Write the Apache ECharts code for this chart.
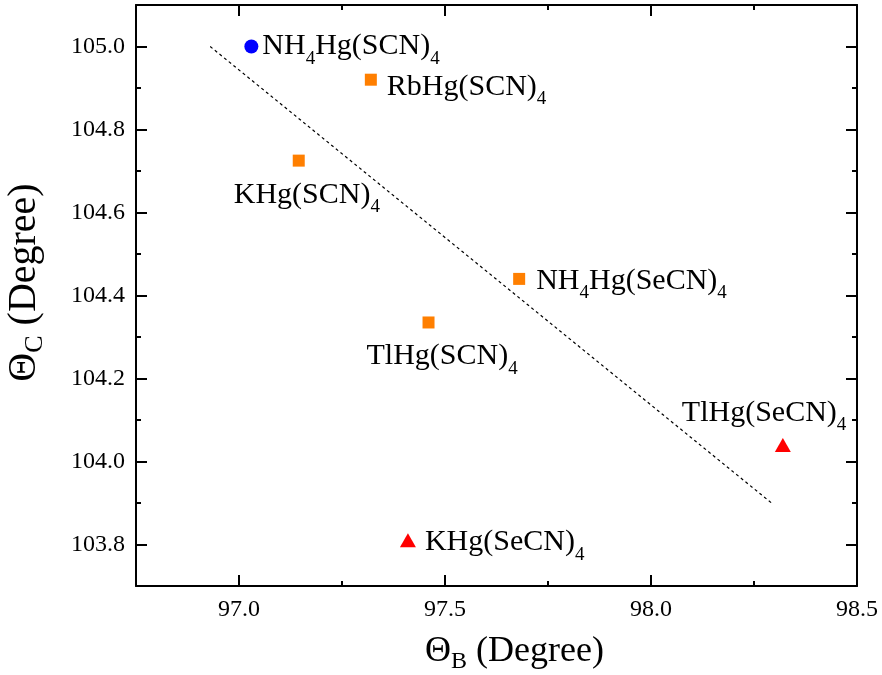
<!DOCTYPE html>
<html>
<head>
<meta charset="utf-8">
<title>Θ_C vs Θ_B</title>
<script src="https://cdn.jsdelivr.net/npm/echarts@6/dist/echarts.min.js"></script>
<style>
  html, body { margin: 0; padding: 0; background: #fff; }
  #chart { width: 882px; height: 675px; }
</style>
</head>
<body>
<div id="chart"></div>
<script>
// Compounds and their bond angles (degrees)
const compounds = ['NH4Hg(SCN)4', 'RbHg(SCN)4', 'KHg(SCN)4', 'NH4Hg(SeCN)4', 'TlHg(SCN)4', 'TlHg(SeCN)4', 'KHg(SeCN)4'];
const thetaB = [97.03, 97.32, 97.145, 97.68, 97.46, 98.32, 97.41];
const thetaC = [105.00, 104.92, 104.725, 104.44, 104.335, 104.04, 103.81];
// marker group per compound: 0 = circle, 1 = square, 2 = triangle
const groups = [0, 1, 1, 1, 1, 2, 2];

// Linear trend line endpoints
const trendB = [96.93, 98.295];
const trendC = [105.00, 103.898];

// Axis ticks
const xMajorTicks = [97.0, 97.5, 98.0, 98.5];
const xMinorTicks = [97.25, 97.75, 98.25];
const yMajorTicks = [103.8, 104.0, 104.2, 104.4, 104.6, 104.8, 105.0];
const yMinorTicks = [103.9, 104.1, 104.3, 104.5, 104.7, 104.9];

// Label placement relative to each marker centre (px): text start x, text middle y
const labelOffsets = [[11, 0], [16, 7], [-65, 34], [17, 2], [-62, 34], [-101, -32], [17, 2]];

const SERIF = 'Liberation Serif';

// Turn digits in a formula into subscripts with rich text
function formula(name) {
  return name.replace(/([^0-9]+)|([0-9]+)/g, (m, txt, num) => txt ? '{m|' + txt + '}' : '{s|' + num + '}');
}

const labelRich = {
  m: { fontSize: 30, fontFamily: SERIF, color: '#000' },
  s: { fontSize: 19, fontFamily: SERIF, color: '#000', padding: [25, 0, 0, 0] }
};

const markerStyles = [
  { symbol: 'circle', size: 14, color: '#0000ff' },
  { symbol: 'rect', size: 12, color: '#ff7f00' },
  { symbol: 'triangle', size: [16, 14], color: '#ff0000' }
];

const scatterSeries = markerStyles.map((ms, g) => ({
  type: 'scatter',
  symbol: ms.symbol,
  symbolSize: ms.size,
  itemStyle: { color: ms.color, opacity: 1 },
  z: 5,
  data: compounds.map((name, i) => ({ name, i })).filter(d => groups[d.i] === g).map(d => {
    const sz = Array.isArray(ms.size) ? ms.size : [ms.size, ms.size];
    const off = labelOffsets[d.i];
    return {
      name: d.name,
      value: [thetaB[d.i], thetaC[d.i]],
      label: {
        show: true,
        position: [sz[0] / 2 + off[0], sz[1] / 2 + off[1]],
        align: 'left',
        verticalAlign: 'middle',
        formatter: formula(d.name),
        rich: labelRich
      }
    };
  }),
  emphasis: { disabled: true }
}));

const lineSeries = {
  type: 'line',
  data: trendB.map((b, i) => [b, trendC[i]]),
  symbol: 'none',
  lineStyle: { color: '#000', width: 1.2, type: [3, 3] },
  z: 2,
  silent: true
};

const tickLabelStyle = { fontSize: 24, fontFamily: SERIF, color: '#000' };
const axisLineStyle = { color: '#000', width: 2 };

function xAxisDef(position, ticks, len, withLine, withLabel) {
  return {
    type: 'value', position, min: 96.75, max: 98.5,
    axisLine: { show: withLine, onZero: false, lineStyle: axisLineStyle },
    axisTick: { show: true, inside: true, length: len, customValues: ticks, lineStyle: axisLineStyle },
    axisLabel: withLabel ? Object.assign({
      show: true, margin: 12, customValues: ticks, formatter: v => Number(v).toFixed(1)
    }, tickLabelStyle) : { show: false },
    splitLine: { show: false }
  };
}

function yAxisDef(position, ticks, len, withLine, withLabel) {
  return {
    type: 'value', position, min: 103.7, max: 105.1,
    axisLine: { show: withLine, onZero: false, lineStyle: axisLineStyle },
    axisTick: { show: true, inside: true, length: len, customValues: ticks, lineStyle: axisLineStyle },
    axisLabel: withLabel ? Object.assign({
      show: true, margin: 11, customValues: ticks, formatter: v => Number(v).toFixed(1)
    }, tickLabelStyle) : { show: false },
    splitLine: { show: false }
  };
}

const xAxes = [
  xAxisDef('bottom', xMajorTicks, 11, true, true),
  xAxisDef('bottom', xMinorTicks, 5, false, false),
  xAxisDef('top', xMajorTicks, 11, true, false),
  xAxisDef('top', xMinorTicks, 5, false, false)
];
xAxes[0].name = '{m|Θ}{s|B}{m| (Degree)}';
xAxes[0].nameLocation = 'middle';
xAxes[0].nameGap = 44;
xAxes[0].nameTextStyle = {
  padding: [0, 0, 0, 36],
  rich: {
    m: { fontSize: 36, fontFamily: SERIF, color: '#000' },
    s: { fontSize: 24, fontFamily: SERIF, color: '#000', padding: [20, 0, 0, 0] }
  }
};

const yAxes = [
  yAxisDef('left', yMajorTicks, 11, true, true),
  yAxisDef('left', yMinorTicks, 5, false, false),
  yAxisDef('right', yMajorTicks, 11, true, false),
  yAxisDef('right', yMinorTicks, 5, false, false)
];
yAxes[0].name = '{m|Θ}{s|C}{m| (Degree)}';
yAxes[0].nameLocation = 'middle';
yAxes[0].nameGap = 88;
yAxes[0].nameTextStyle = {
  padding: [0, 0, 0, 26],
  rich: {
    m: { fontSize: 40, fontFamily: SERIF, color: '#000' },
    s: { fontSize: 26, fontFamily: SERIF, color: '#000', padding: [22, 0, 0, 0] }
  }
};

const chart = echarts.init(document.getElementById('chart'), null, { renderer: 'canvas' });
chart.setOption({
  animation: false,
  backgroundColor: '#fff',
  textStyle: { fontFamily: SERIF },
  grid: { left: 136, right: 25, top: 5, bottom: 89, containLabel: false, outerBoundsMode: 'none' },
  xAxis: xAxes,
  yAxis: yAxes,
  series: [lineSeries, ...scatterSeries]
});
</script>
</body>
</html>
